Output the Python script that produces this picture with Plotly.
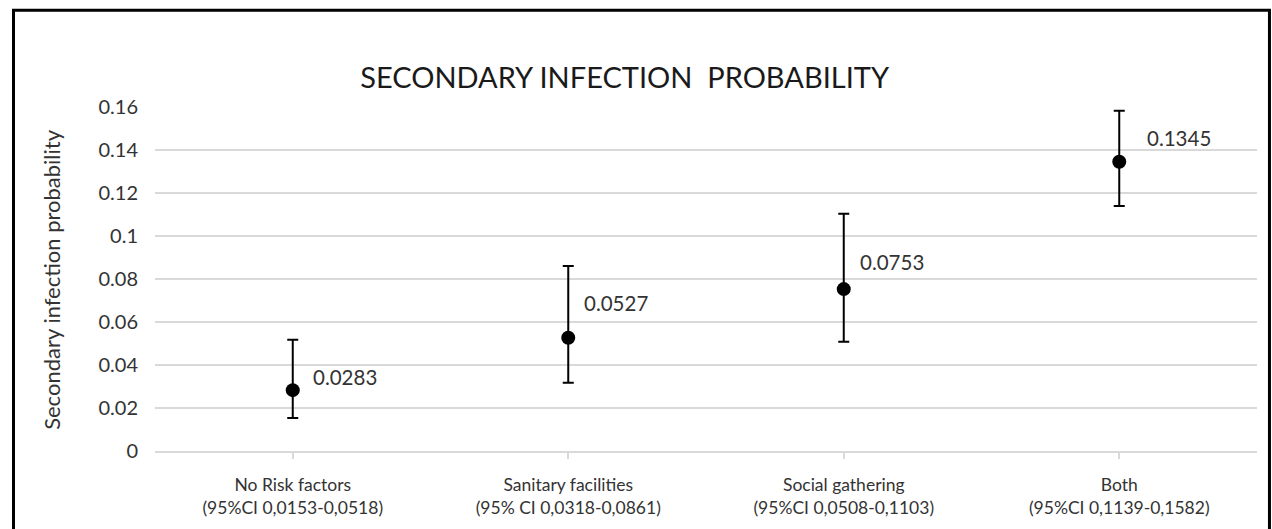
import plotly.graph_objects as go

# ---- data ----
categories = ["No Risk factors", "Sanitary facilities", "Social gathering", "Both"]
ci_labels = ["(95%CI 0,0153-0,0518)", "(95% CI 0,0318-0,0861)",
             "(95%CI 0,0508-0,1103)", "(95%CI 0,1139-0,1582)"]
probability = [0.0283, 0.0527, 0.0753, 0.1345]
ci_lower = [0.0153, 0.0318, 0.0508, 0.1139]
ci_upper = [0.0518, 0.0861, 0.1103, 0.1582]
y_tick_vals = [0, 0.02, 0.04, 0.06, 0.08, 0.1, 0.12, 0.14, 0.16]
y_tick_text = ["0", "0.02", "0.04", "0.06", "0.08", "0.1", "0.12", "0.14", "0.16"]

# label offsets (style, px)
label_dx = [18, 14, 14, 26]
label_dy = [13, 35, 27, 24]

FONT = "Lato"
x_pos = list(range(len(categories)))
tick_text = [f"{c}<br>{ci}" for c, ci in zip(categories, ci_labels)]

fig = go.Figure()
fig.add_trace(go.Scatter(
    x=x_pos, y=probability, mode="markers",
    marker=dict(color="black", size=14, symbol="circle"),
    error_y=dict(
        type="data", symmetric=False,
        array=[u - v for u, v in zip(ci_upper, probability)],
        arrayminus=[v - l for v, l in zip(probability, ci_lower)],
        color="black", thickness=2, width=5.5,
    ),
    showlegend=False, hoverinfo="skip",
))

for i, v in enumerate(probability):
    fig.add_annotation(
        x=x_pos[i], y=v, text=f"{v:.4f}", showarrow=False,
        xanchor="left", yanchor="middle",
        xshift=label_dx[i], yshift=label_dy[i],
        font=dict(family=FONT, size=20.5, color="#333333"),
    )

# y-axis title
fig.add_annotation(
    xref="paper", yref="paper", x=-0.0945, y=0.5,
    text="Secondary infection probability", textangle=-90, showarrow=False,
    xanchor="center", yanchor="middle",
    font=dict(family=FONT, size=22, color="#333333"),
)

# outer frame
fig.add_shape(type="rect", xref="paper", yref="paper",
              x0=-0.1284, x1=1.0113, y0=-0.6, y1=1.2814,
              line=dict(color="black", width=3), fillcolor="rgba(0,0,0,0)",
              layer="above")

fig.update_layout(
    width=1272, height=529,
    margin=dict(l=155, r=15, t=107, b=78),
    paper_bgcolor="white", plot_bgcolor="white",
    font=dict(family=FONT, color="#333333"),
    title=dict(
        text="SECONDARY INFECTION  PROBABILITY",
        xref="paper", x=0.4262, xanchor="center",
        yref="container", y=1 - 78 / 529, yanchor="middle",
        font=dict(family=FONT, size=29, color="#1a1a1a"),
    ),
    xaxis=dict(
        range=[-0.5, 3.5], tickmode="array", tickvals=x_pos, ticktext=tick_text,
        tickson="boundaries", ticks="outside", ticklen=6, tickwidth=2,
        tickcolor="#d9d9d9", showline=True, linecolor="#d9d9d9", linewidth=2,
        showgrid=False, zeroline=False, fixedrange=True,
        tickfont=dict(family=FONT, size=17.5, color="#333333"),
        ticklabelstandoff=11,
    ),
    yaxis=dict(
        range=[0, 0.16], tickmode="array", tickvals=y_tick_vals, ticktext=y_tick_text,
        showgrid=True, gridcolor="#d9d9d9", gridwidth=2, zeroline=False,
        showline=False, ticks="", fixedrange=True,
        tickfont=dict(family=FONT, size=20, color="#333333"),
        ticklabelstandoff=16,
    ),
)

fig.write_html("out.html", config={"displayModeBar": False},
               post_script="document.body.style.margin='0';")
